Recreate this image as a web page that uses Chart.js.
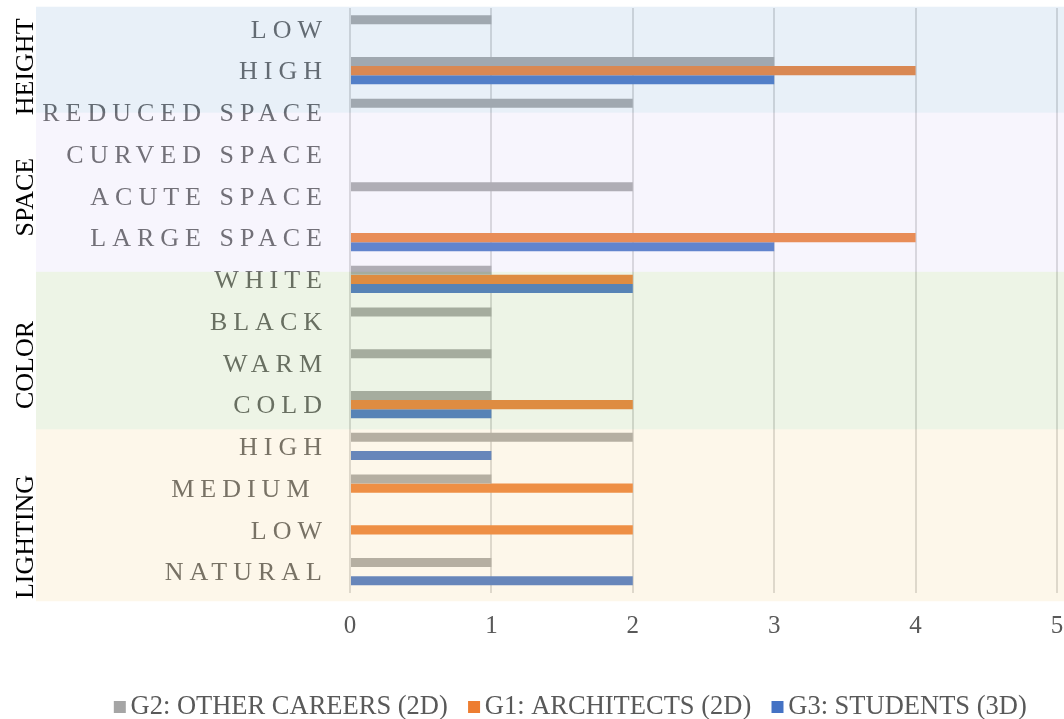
<!DOCTYPE html>
<html>
<head>
<meta charset="utf-8">
<script src="https://cdn.jsdelivr.net/npm/chart.js@4/dist/chart.umd.min.js"></script>
<style>
  html, body { margin: 0; padding: 0; background: #ffffff; }
  #wrap { width: 1064px; height: 719px; }
</style>
</head>
<body>
<div id="wrap"><canvas id="c" width="1064" height="719"></canvas></div>
<script>
// ---- data ----
const categories = ['LOW', 'HIGH', 'REDUCED SPACE', 'CURVED SPACE', 'ACUTE SPACE', 'LARGE SPACE',
                    'WHITE', 'BLACK', 'WARM', 'COLD', 'HIGH', 'MEDIUM ', 'LOW', 'NATURAL'];
const seriesNames = ['G2: OTHER CAREERS (2D)', 'G1: ARCHITECTS (2D)', 'G3: STUDENTS (3D)'];
const g2Other     = [1, 3, 2, null, 2, null, 1, 1, 1, 1, 2, 1, null, 1];
const g1Architect = [null, 4, null, null, null, 4, 2, null, null, 2, null, 2, 2, null];
const g3Students  = [null, 3, null, null, null, 3, 2, null, null, 1, 1, null, null, 2];
const xTicks = [0, 1, 2, 3, 4, 5];
const groupNames = ['HEIGHT', 'SPACE', 'COLOR', 'LIGHTING'];

// ---- styling ----
const SERIF = "'Liberation Serif', 'Times New Roman', Times, serif";
const seriesColors = ['#A5A5A5', '#ED7D31', '#4472C4'];
// band extents (in category-index units) and label centres
const bandRanges = [[-0.53, 2.01], [2.01, 5.82], [5.82, 9.59], [9.59, 13.71]];
const bandFills = ['rgba(140,180,220,0.2)', 'rgba(215,205,245,0.2)', 'rgba(165,200,130,0.2)', 'rgba(245,215,150,0.2)'];
const groupLabelPos = [0.91, 4.03, 8.05, 12.17];

// legend marker: square placed just left of the text
function legendMarker(color) {
  const c = document.createElement('canvas');
  c.width = 26; c.height = 12;
  const g = c.getContext('2d');
  g.fillStyle = color;
  g.fillRect(10, 0, 12, 12);
  return c;
}
const markers = seriesColors.map(legendMarker);

const bandsPlugin = {
  id: 'bands',
  afterLayout(chart) {
    const lg = chart.legend;
    if (lg) { lg.left += 43; lg.right += 43; }
  },
  beforeDraw(chart) {
    const s = chart.scales.y;
    if (s && !s._spaced) {
      const orig = s.drawLabels.bind(s);
      s.drawLabels = function (area) {
        const ctx = this.ctx;
        ctx.save();
        ctx.letterSpacing = '6px';
        ctx.translate(0, 2);
        orig(area);
        ctx.restore();
      };
      s._spaced = true;
    }
  },
  afterDraw(chart) {
    const ctx = chart.ctx;
    const y = chart.scales.y;
    ctx.save();
    bandRanges.forEach((r, i) => {
      const y0 = y.getPixelForValue(r[0]);
      const y1 = y.getPixelForValue(r[1]);
      ctx.fillStyle = bandFills[i];
      ctx.fillRect(36, y0, chart.width - 36, y1 - y0);
    });
    ctx.fillStyle = '#000000';
    ctx.font = '26px ' + SERIF;
    ctx.textAlign = 'center';
    ctx.textBaseline = 'middle';
    groupNames.forEach((g, i) => {
      const cy = y.getPixelForValue(groupLabelPos[i]);
      ctx.save();
      ctx.translate(26, cy);
      ctx.rotate(-Math.PI / 2);
      ctx.fillText(g, 0, 0);
      ctx.restore();
    });
    ctx.restore();
  }
};

const datasets = [g2Other, g1Architect, g3Students].map((d, i) => ({
  label: seriesNames[i],
  data: d,
  backgroundColor: seriesColors[i],
  borderWidth: 0,
  barPercentage: 1.0,
  categoryPercentage: 0.655,
  pointStyle: markers[i]
}));

new Chart(document.getElementById('c'), {
  type: 'bar',
  data: { labels: categories, datasets },
  options: {
    indexAxis: 'y',
    responsive: false,
    animation: false,
    layout: { padding: { left: 0, top: 8, right: 7, bottom: 0 } },
    scales: {
      x: {
        min: 0, max: 5,
        afterBuildTicks(scale) { scale.ticks = xTicks.map(v => ({ value: v })); },
        grid: { color: '#D9D9D9', lineWidth: 2, drawTicks: false },
        border: { display: false },
        ticks: { color: '#595959', font: { family: SERIF, size: 25 }, padding: 19 },
        afterFit(scale) { scale.height = 78.5; scale.paddingLeft = 0; scale.paddingRight = 0; }
      },
      y: {
        grid: { display: false, drawTicks: false },
        border: { display: false },
        ticks: { color: '#595959', font: { family: SERIF, size: 26 }, padding: 22, autoSkip: false },
        afterFit(scale) { scale.width = 350; scale.paddingTop = 0; scale.paddingBottom = 0; }
      }
    },
    plugins: {
      legend: {
        position: 'bottom',
        maxHeight: 48,
        labels: {
          usePointStyle: true,
          boxWidth: 1, boxHeight: 12, padding: 22.75,
          color: '#595959',
          font: { family: SERIF, size: 26.5 }
        }
      },
      tooltip: { enabled: false }
    }
  },
  plugins: [bandsPlugin]
});
</script>
</body>
</html>
